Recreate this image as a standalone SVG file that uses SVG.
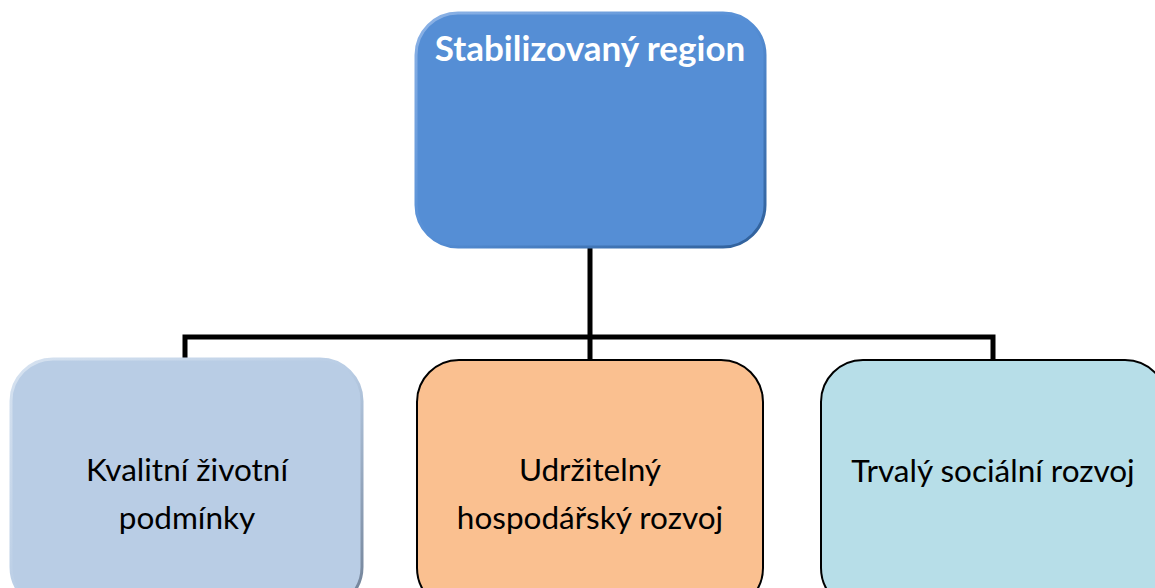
<svg xmlns="http://www.w3.org/2000/svg" width="1155" height="588" viewBox="0 0 1155 588">
<defs>
<style>
.lbl{font-family:Lato,"Open Sans","Liberation Sans",sans-serif;font-size:31.5px;fill:#000;text-anchor:middle}
.ttl{font-family:Lato,"Open Sans","Liberation Sans",sans-serif;font-size:35px;font-weight:bold;fill:#fff;text-anchor:middle}
.conn{fill:none;stroke:#000;stroke-width:5;stroke-linejoin:miter}
</style>
<linearGradient id="edgeBlue" x1="0" y1="0" x2="1" y2="1">
<stop offset="0" stop-color="#8db3e6"/><stop offset="0.5" stop-color="#558ed5"/><stop offset="1" stop-color="#2f5f99"/>
</linearGradient>
<linearGradient id="edgeGrey" x1="0" y1="0" x2="1" y2="1">
<stop offset="0" stop-color="#d6e2f0"/><stop offset="0.5" stop-color="#b9cde5"/><stop offset="1" stop-color="#6f7f95"/>
</linearGradient>
</defs>
<g id="connectors">
<path class="conn" d="M590 247 V337 M185 358 V337 H993 V360 M590 337 V360"/>
</g>
<g id="node-top">
<rect x="416" y="13" width="349" height="234" rx="42" fill="#558ed5" stroke="url(#edgeBlue)" stroke-width="3"/>
<text class="ttl" x="590" y="61">Stabilizovaný region</text>
</g>
<g id="node-left">
<rect x="11" y="359" width="351" height="250" rx="42" fill="#b9cde5" stroke="url(#edgeGrey)" stroke-width="3"/>
<text class="lbl" x="187" y="481">Kvalitní životní</text>
<text class="lbl" x="187" y="529">podmínky</text>
</g>
<g id="node-mid">
<rect x="417" y="360" width="346" height="250" rx="42" fill="#fac090" stroke="#000" stroke-width="2"/>
<text class="lbl" x="590" y="481">Udržitelný</text>
<text class="lbl" x="590" y="529">hospodářský rozvoj</text>
</g>
<g id="node-right">
<rect x="821" y="360" width="346" height="250" rx="42" fill="#b7dee8" stroke="#000" stroke-width="2"/>
<text class="lbl" x="993" y="482">Trvalý sociální rozvoj</text>
</g>
</svg>
